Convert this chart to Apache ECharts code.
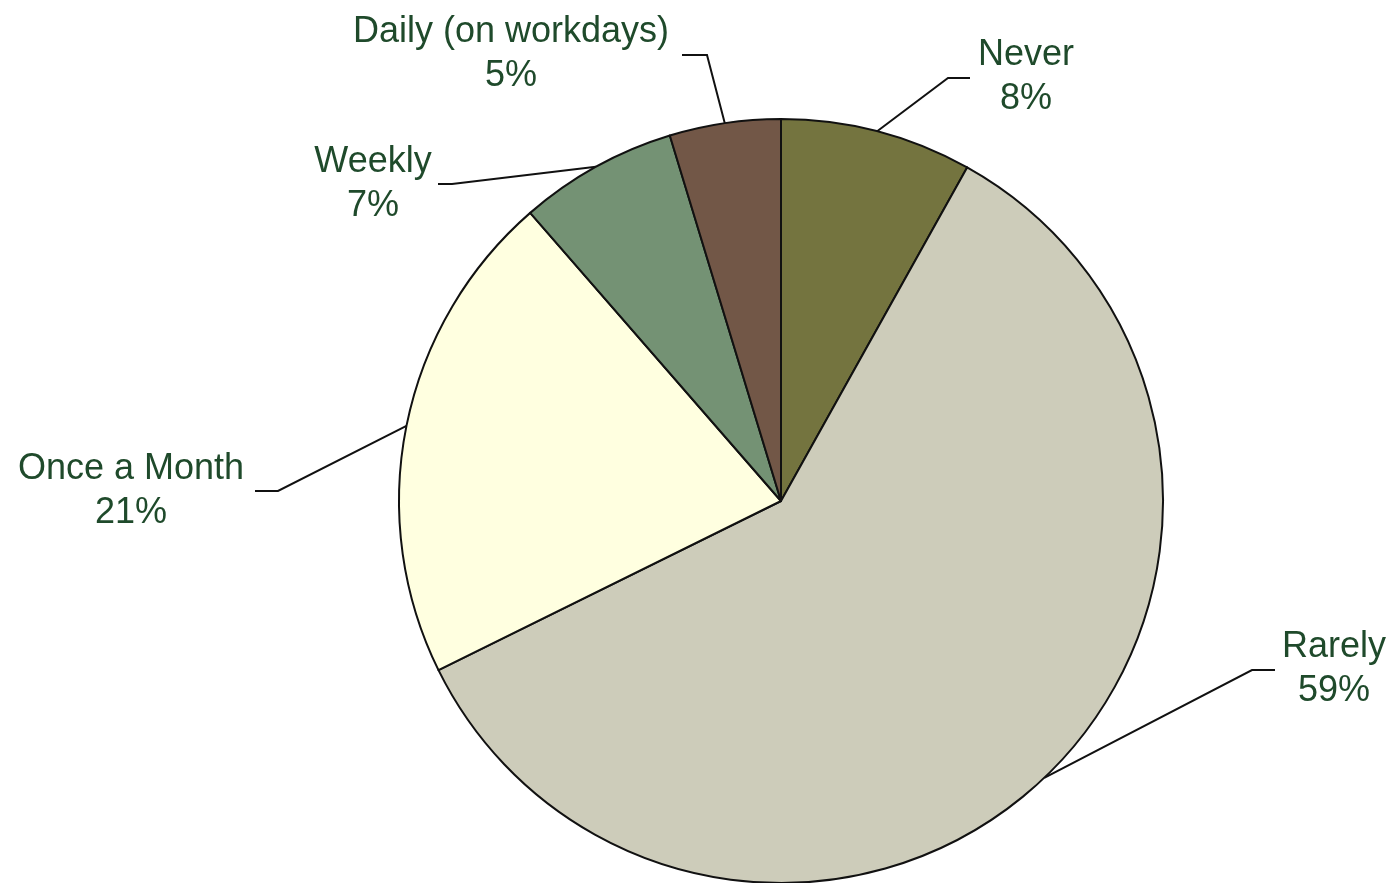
<!DOCTYPE html>
<html>
<head>
<meta charset="utf-8">
<script src="https://cdn.jsdelivr.net/npm/echarts@6/dist/echarts.min.js"></script>
<style>
html,body{margin:0;padding:0;background:#fff;}
#chart{width:1393px;height:883px;}
</style>
</head>
<body>
<div id="chart"></div>
<script>
var categories = ['Never', 'Rarely', 'Once a Month', 'Weekly', 'Daily (on workdays)'];
// slice sizes as measured from the slice angles in the picture
var values = [8.1, 59.6, 20.9, 6.7, 4.7];
// percentages printed in the labels
var percentLabels = ['8%', '59%', '21%', '7%', '5%'];
var sliceColors = ['#74743f', '#cdccba', '#ffffe0', '#749274', '#725747'];

// label placement (text block centre, line elbow, line end next to text)
var labelPlacement = [
  { x: 1026, y: 77,  elbow: [948, 78],  end: [970, 78] },
  { x: 1334, y: 669, elbow: [1252, 670], end: [1275, 670] },
  { x: 131,  y: 491, elbow: [278, 491], end: [255, 491] },
  { x: 373,  y: 184, elbow: [452, 184], end: [438, 184] },
  { x: 511,  y: 54,  elbow: [707, 55],  end: [682, 55] }
];

var chart = echarts.init(document.getElementById('chart'), null, { renderer: 'canvas' });
var data = categories.map(function (c, i) {
  return { name: c, value: values[i], itemStyle: { color: sliceColors[i] } };
});

chart.setOption({
  backgroundColor: '#ffffff',
  animation: false,
  series: [{
    type: 'pie',
    center: [781, 501],
    radius: 382,
    startAngle: 90,
    clockwise: true,
    avoidLabelOverlap: false,
    data: data,
    itemStyle: { borderColor: '#111', borderWidth: 2 },
    emphasis: { disabled: true },
    label: {
      show: true,
      position: 'outside',
      formatter: function (p) { return p.name + '\n' + percentLabels[p.dataIndex]; },
      color: '#1f4a2b',
      fontFamily: 'Liberation Sans',
      fontSize: 36,
      lineHeight: 44,
      align: 'center'
    },
    labelLine: {
      show: true,
      length: 30,
      length2: 20,
      lineStyle: { color: '#111', width: 2 }
    },
    labelLayout: function (params) {
      var p = labelPlacement[params.dataIndex];
      var start = params.labelLinePoints ? params.labelLinePoints[0] : p.elbow;
      return {
        x: p.x,
        y: p.y,
        align: 'center',
        verticalAlign: 'middle',
        labelLinePoints: [start, p.elbow, p.end]
      };
    }
  }]
});
</script>
</body>
</html>
